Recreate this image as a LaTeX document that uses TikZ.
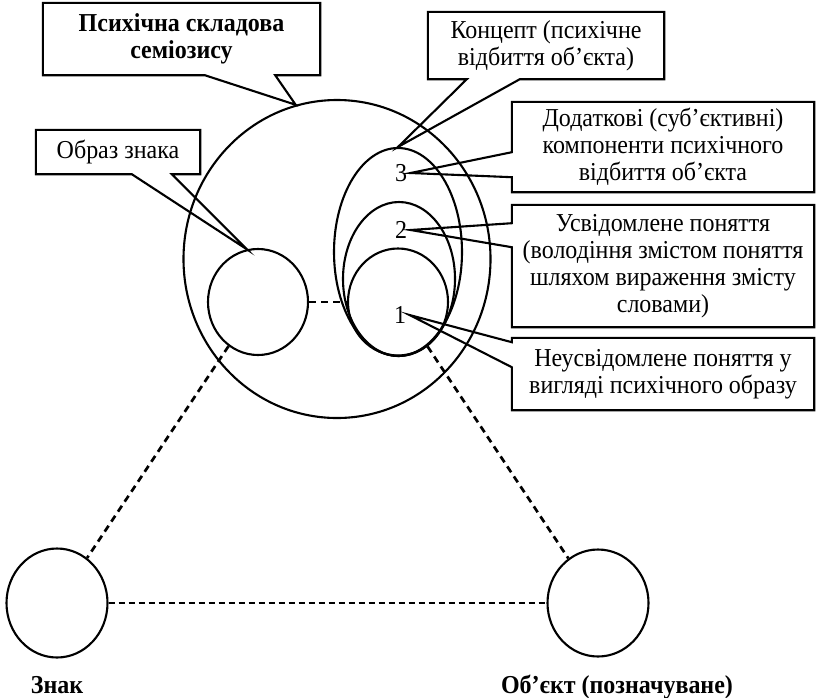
\documentclass[tikz,border=0pt]{standalone}
\usepackage{fontspec}
\setmainfont{Liberation Serif}[FakeStretch=0.93]
\usetikzlibrary{shapes.geometric}

\begin{document}
\begin{tikzpicture}[x=1pt,y=-1pt]
    \tikzstyle{ring} = [draw, ellipse, line width=2.1pt, inner sep=0pt]
    \tikzstyle{note} = [rectangle, align=center, inner sep=0pt, font=\fontsize{25.8}{27}\selectfont]
    \tikzstyle{frame} = [line width=2.1pt]
    \tikzstyle{num} = [font=\fontsize{25.8}{27}\selectfont]
    \tikzstyle{link} = [line width=2.7pt, dash pattern=on 7pt off 5pt]
    \useasboundingbox (0,0) rectangle (816,697);
    % circles and ellipses
    \node[ring, minimum width=307pt, minimum height=318pt] (psyche) at (337,259) {};
    \node[ring, minimum width=100pt, minimum height=106pt] (image) at (258,302) {};
    \node[ring, minimum width=128pt, minimum height=208pt] (concept) at (398,252) {};
    \node[ring, minimum width=112pt, minimum height=154pt] (aware) at (399,279) {};
    \node[ring, minimum width=100pt, minimum height=107pt] (unaware) at (398,302) {};
    \node[ring, minimum width=101pt, minimum height=109pt] (sign) at (57,603) {};
    \node[ring, minimum width=101pt, minimum height=107pt] (object) at (598,603) {};
    \node[num] (three) at (401,173) {3};
    \node[num] (two) at (401,230) {2};
    \node[num] (one) at (400,315) {1};
    % dashed links
    \draw[link] (image) -- (unaware);
    \draw[link] (image) -- (sign);
    \draw[link] (unaware) -- (object);
    \draw[link, dash pattern=on 6pt off 4pt] (sign) -- (object);
    % callout boxes
    \node[note, minimum width=277pt, minimum height=72pt] (psynote) at (181.5,39)
        {\bfseries Психічна складова\\\bfseries семіозису};
    \node[note, minimum width=236pt, minimum height=67pt] (connote) at (546,45.5)
        {Концепт (психічне\\відбиття об’єкта)};
    \node[note, minimum width=302pt, minimum height=90pt] (addnote) at (663,147)
        {Додаткові (суб’єктивні)\\компоненти психічного\\відбиття об’єкта};
    \node[note, minimum width=302pt, minimum height=122pt] (awnote) at (663,266)
        {Усвідомлене поняття\\(володіння змістом поняття\\шляхом вираження змісту\\словами)};
    \node[note, minimum width=302pt, minimum height=72pt] (unnote) at (663,374)
        {Неусвідомлене поняття у\\вигляді психічного образу};
    \node[note, minimum width=164pt, minimum height=44pt] (imgnote) at (118,152)
        {Образ знака};
    % callout outlines with pointers
    \draw[frame] (psynote.south west) -- (psynote.north west) -- (psynote.north east) -- (psynote.south east)
        -- ([xshift=-45pt]psynote.south east) -- (psyche.105) -- ([xshift=162pt]psynote.south west) -- cycle;
    \draw[frame] (connote.south west) -- (connote.north west) -- (connote.north east) -- (connote.south east)
        -- ([xshift=92pt]connote.south west) -- (concept.north) -- ([xshift=39pt]connote.south west) -- cycle;
    \draw[frame] (addnote.south west) -- ([yshift=15pt]addnote.south west) -- (three.east)
        -- ([yshift=40pt]addnote.south west) -- (addnote.north west) -- (addnote.north east) -- (addnote.south east) -- cycle;
    \draw[frame] (awnote.south west) -- ([yshift=80pt]awnote.south west) -- (two.east)
        -- ([yshift=104pt]awnote.south west) -- (awnote.north west) -- (awnote.north east) -- (awnote.south east) -- cycle;
    \draw[frame] (unnote.south west) -- ([yshift=43pt]unnote.south west) -- (one.east)
        -- ([yshift=68pt]unnote.south west) -- (unnote.north west) -- (unnote.north east) -- (unnote.south east) -- cycle;
    \draw[frame] (imgnote.south west) -- (imgnote.north west) -- (imgnote.north east) -- (imgnote.south east)
        -- ([xshift=136pt]imgnote.south west) -- (image.102) -- ([xshift=96pt]imgnote.south west) -- cycle;
    % bottom labels
    \node[num, anchor=base, font=\fontsize{25.8}{27}\selectfont\bfseries] (signlabel) at (57,693) {Знак};
    \node[num, anchor=base, font=\fontsize{25.8}{27}\selectfont\bfseries] (objlabel) at (617,693) {Об’єкт (позначуване)};
\end{tikzpicture}
\end{document}
